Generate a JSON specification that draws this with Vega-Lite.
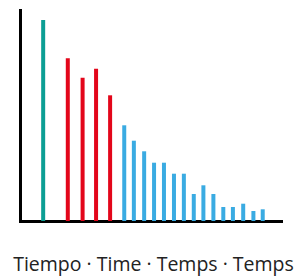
{
  "$schema": "https://vega.github.io/schema/vega-lite/v6.json",
  "width": 261,
  "height": 211,
  "autosize": {"type": "none"},
  "padding": {"left": 20, "top": 10, "right": 16, "bottom": 58},
  "background": "white",
  "config": {"view": {"stroke": null}},
  "data": {
    "values": [
      {"t": 18.9, "v": 201, "group": "a"},
      {"t": 44.5, "v": 162.7, "group": "b"},
      {"t": 59.9, "v": 143.3, "group": "b"},
      {"t": 73.9, "v": 152.3, "group": "b"},
      {"t": 88.5, "v": 125.7, "group": "b"},
      {"t": 103.2, "v": 95.7, "group": "c"},
      {"t": 113.2, "v": 80.3, "group": "c"},
      {"t": 123.9, "v": 69.7, "group": "c"},
      {"t": 134.2, "v": 58.3, "group": "c"},
      {"t": 144.5, "v": 58.3, "group": "c"},
      {"t": 154.9, "v": 47.3, "group": "c"},
      {"t": 165.2, "v": 47.3, "group": "c"},
      {"t": 175.5, "v": 27, "group": "c"},
      {"t": 185.5, "v": 35.7, "group": "c"},
      {"t": 195.9, "v": 27, "group": "c"},
      {"t": 206.2, "v": 14, "group": "c"},
      {"t": 216.2, "v": 14, "group": "c"},
      {"t": 226.9, "v": 17.3, "group": "c"},
      {"t": 237.5, "v": 10, "group": "c"},
      {"t": 247.2, "v": 11.7, "group": "c"}
    ]
  },
  "mark": {"type": "bar", "size": 4, "cornerRadius": 0},
  "encoding": {
    "x": {
      "field": "t",
      "type": "quantitative",
      "scale": {"domain": [0, 261], "nice": false, "zero": false},
      "axis": {
        "title": "Tiempo · Time · Temps · Temps",
        "titleFont": "Open Sans",
        "titleFontSize": 19.5,
        "titleFontWeight": "normal",
        "titleColor": "#222222",
        "titlePadding": 34,
        "titleX": 133,
        "labels": false,
        "ticks": false,
        "grid": false,
        "domainColor": "black",
        "domainWidth": 3,
        "domainCap": "square"
      }
    },
    "y": {
      "field": "v",
      "type": "quantitative",
      "scale": {"domain": [0, 211], "nice": false},
      "axis": {
        "title": null,
        "labels": false,
        "ticks": false,
        "grid": false,
        "domainColor": "black",
        "domainWidth": 3,
        "domainCap": "square"
      }
    },
    "color": {
      "field": "group",
      "type": "nominal",
      "scale": {"domain": ["a", "b", "c"], "range": ["#0c9e94", "#e3061a", "#3aabe2"]},
      "legend": null
    }
  }
}
